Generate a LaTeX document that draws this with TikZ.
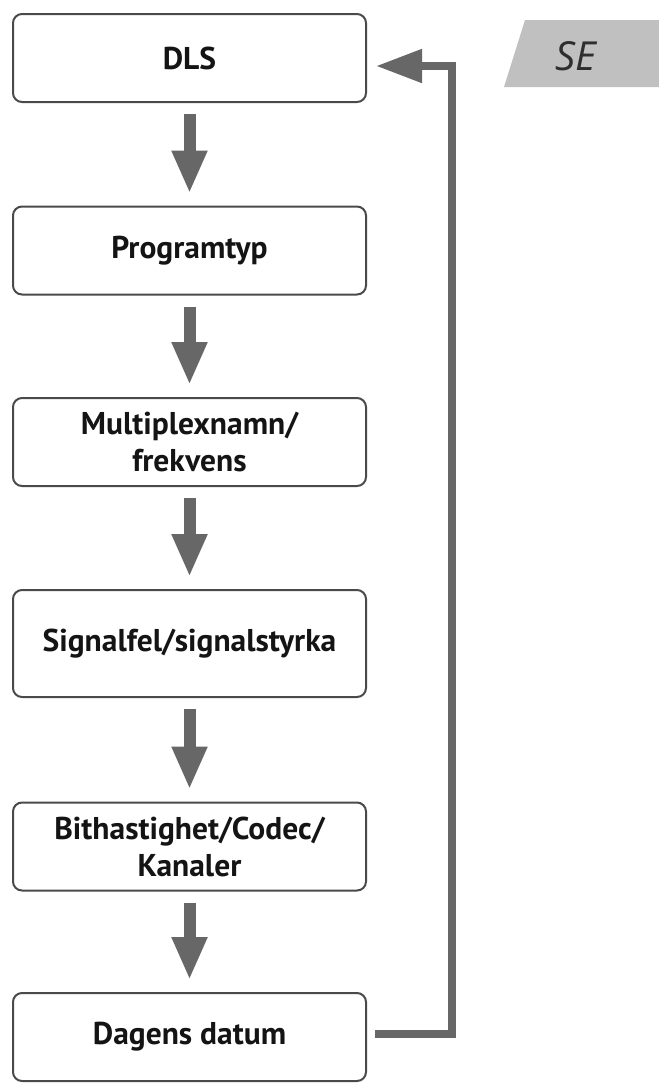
\documentclass[tikz,border=0pt]{standalone}
\usepackage{fontspec}
\setmainfont{PT Sans}
\newfontfamily\tagfont{Open Sans}
\usetikzlibrary{arrows.meta}
\definecolor{framegray}{HTML}{4A4A4A}
\definecolor{arrowgray}{HTML}{676767}
\definecolor{taggray}{HTML}{C0C0C0}
\definecolor{tagtext}{HTML}{2E2E2E}

\begin{document}
\begin{tikzpicture}[x=1pt, y=-1pt,
  menu/.style={draw=framegray, line width=2pt, rounded corners=9pt, fill=white,
    minimum width=353pt, minimum height=88pt, align=center, inner sep=0pt,
    font=\fontsize{31.5}{37}\selectfont\bfseries, text=black!92},
  down/.style={draw=arrowgray, line width=12pt, -{Triangle[width=33pt,length=43pt]},
    shorten <=11pt, shorten >=12pt},
  back/.style={draw=arrowgray, line width=8pt, -{Triangle[width=32pt,length=46pt]}}]

  \useasboundingbox (0,0) rectangle (659,1085);

  % ---- menu column ----
  \node[menu] (dls) at (189.5,58) {DLS};
  \node[menu] (prog) at (189.5,250.5) {Programtyp};
  \node[menu] (mux) at (189.5,442) {Multiplexnamn/\\frekvens};
  \node[menu, minimum height=107pt] (signal) at (189.5,643.5) {Signalfel/signalstyrka};
  \node[menu] (bitrate) at (189.5,846.5) {Bithastighet/Codec/\\Kanaler};
  \node[menu] (datum) at (189.5,1037) {Dagens datum};

  \draw[down] (dls) -- (prog);
  \draw[down] (prog) -- (mux);
  \draw[down] (mux) -- (signal);
  \draw[down] (signal) -- (bitrate);
  \draw[down] (bitrate) -- (datum);

  % ---- back to the top ----
  \coordinate (turn) at (452,66);
  \draw[back] ([xshift=8pt,yshift=3pt]datum.east) -| (turn) -- ([xshift=9pt]dls.east |- turn);

  % ---- language tag ----
  \fill[taggray] (504,87) -- (525,20) -- (659,20) -- (659,87) -- cycle;
  \node[font=\tagfont\itshape\fontsize{40}{40}\selectfont, text=tagtext] (se) at (576,56) {SE};

\end{tikzpicture}
\end{document}
